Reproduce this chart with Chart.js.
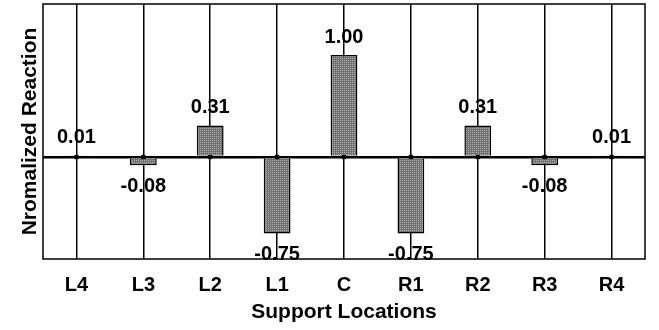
<!DOCTYPE html>
<html>
<head>
<meta charset="utf-8">
<script src="https://cdn.jsdelivr.net/npm/chart.js@4/dist/chart.umd.min.js"></script>
<style>
  html, body { margin: 0; padding: 0; background: #fff; }
  #wrap { width: 659px; height: 330px; }
</style>
</head>
<body>
<div id="wrap"><canvas id="myChart" width="659" height="330"></canvas></div>
<script>
const locations = ['L4', 'L3', 'L2', 'L1', 'C', 'R1', 'R2', 'R3', 'R4'];
const reactions = [0.01, -0.08, 0.31, -0.75, 1.00, -0.75, 0.31, -0.08, 0.01];
const supportMarks = [0, 0, 0, 0, 0, 0, 0, 0, 0];

const FONT = "'Liberation Sans', Arial, sans-serif";

// stippled grey fill like the original bars
function makeStipple() {
    const c = document.createElement('canvas');
    c.width = 2; c.height = 2;
    const g = c.getContext('2d');
    g.fillStyle = '#707070';
    g.fillRect(0, 0, 2, 2);
    g.fillStyle = '#b0b0b0';
    g.fillRect(0, 0, 1, 1);
    return g.createPattern(c, 'repeat');
}

const frameBox = {
    id: 'frameBox',
    afterDraw(chart) {
        const { ctx, chartArea: a } = chart;
        ctx.save();
        ctx.strokeStyle = '#000';
        ctx.lineWidth = 1.5;
        ctx.strokeRect(a.left, a.top, a.right - a.left, a.bottom - a.top);
        ctx.restore();
    }
};

const valueLabels = {
    id: 'valueLabels',
    afterDatasetsDraw(chart) {
        const { ctx } = chart;
        const meta = chart.getDatasetMeta(1);
        ctx.save();
        ctx.font = 'bold 20px ' + FONT;
        ctx.fillStyle = '#000';
        ctx.textAlign = 'center';
        ctx.textBaseline = 'middle';
        meta.data.forEach((bar, i) => {
            const v = reactions[i];
            const top = Math.min(bar.y, bar.base);
            const bottom = Math.max(bar.y, bar.base);
            const y = v >= 0 ? top - 18 : bottom + 21;
            ctx.fillText(v.toFixed(2), bar.x, y);
        });
        ctx.restore();
    }
};

const ctx = document.getElementById('myChart').getContext('2d');
new Chart(ctx, {
    type: 'bar',
    data: {
        labels: locations,
        datasets: [{
            type: 'line',
            data: supportMarks,
            showLine: false,
            pointStyle: 'rect',
            pointRadius: 3,
            pointBackgroundColor: '#000',
            pointBorderColor: '#000',
            pointBorderWidth: 0,
            order: 0
        }, {
            data: reactions,
            backgroundColor: makeStipple(),
            borderColor: '#000',
            borderWidth: 1.5,
            barPercentage: 0.4,
            categoryPercentage: 1,
            order: 1
        }]
    },
    options: {
        responsive: false,
        animation: false,
        layout: { padding: { top: 3, right: 14, left: 0, bottom: 0 } },
        plugins: {
            legend: { display: false },
            tooltip: { enabled: false }
        },
        scales: {
            x: {
                offset: true,
                grid: {
                    offset: false,
                    color: '#000',
                    lineWidth: 1.5,
                    drawTicks: false
                },
                border: { display: false },
                ticks: {
                    color: '#000',
                    padding: 14,
                    font: { family: FONT, size: 20, weight: 'bold' }
                },
                title: {
                    display: true,
                    text: 'Support Locations',
                    color: '#000',
                    padding: { top: 0, bottom: 5 },
                    font: { family: FONT, size: 21, weight: 'bold' }
                },
                afterFit(scale) { scale.height = 71; }
            },
            y: {
                min: -1.0,
                max: 1.5,
                ticks: { display: false, stepSize: 0.5 },
                grid: {
                    drawTicks: false,
                    color: '#000',
                    lineWidth: c => (c.tick && c.tick.value === 0 ? 2.5 : 0)
                },
                border: { display: false },
                title: {
                    display: true,
                    text: 'Nromalized Reaction',
                    color: '#000',
                    padding: { top: 18, bottom: 0 },
                    font: { family: FONT, size: 21, weight: 'bold' }
                },
                afterFit(scale) { scale.width = 43; }
            }
        }
    },
    plugins: [frameBox, valueLabels]
});
</script>
</body>
</html>
